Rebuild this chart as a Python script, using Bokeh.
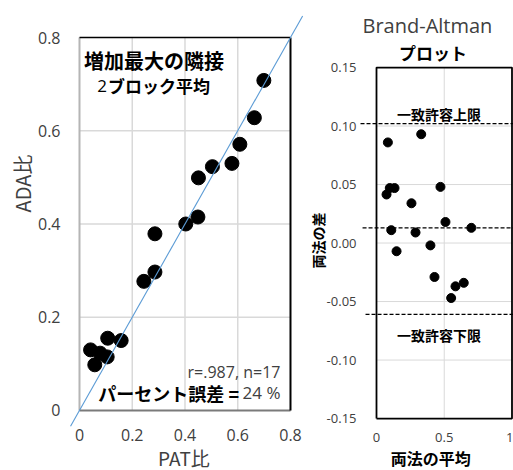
import math
from bokeh.plotting import figure
from bokeh.layouts import row
from bokeh.models import Label, FixedTicker, Range1d
from bokeh.embed import file_html
from bokeh.resources import INLINE

# ---------------- data ----------------
pat = [0.699, 0.663, 0.608, 0.578, 0.504, 0.451, 0.449, 0.403, 0.286, 0.286,
       0.244, 0.158, 0.107, 0.042, 0.058, 0.105, 0.078]
ada = [0.708, 0.628, 0.571, 0.530, 0.523, 0.499, 0.415, 0.400, 0.379, 0.297,
       0.277, 0.150, 0.155, 0.130, 0.098, 0.115, 0.123]

ba_mean = [0.084, 0.330, 0.074, 0.098, 0.133, 0.258, 0.472, 0.509, 0.700, 0.109,
           0.288, 0.398, 0.148, 0.428, 0.583, 0.644, 0.551]
ba_diff = [0.086, 0.093, 0.0415, 0.047, 0.047, 0.034, 0.048, 0.018, 0.013, 0.011,
           0.009, -0.002, -0.007, -0.029, -0.037, -0.034, -0.047]
ba_bias = 0.013
ba_upper = 0.102
ba_lower = -0.061

l_ticks = [0, 0.2, 0.4, 0.6, 0.8]
l_tick_labels = ["0", "0.2", "0.4", "0.6", "0.8"]
r_xticks = [0, 0.5, 1]
r_xtick_labels = ["0", "0.5", "1"]
r_yticks = [-0.15, -0.10, -0.05, 0.0, 0.05, 0.10, 0.15]
r_ytick_labels = ["-0.15", "-0.10", "-0.05", "0.00", "0.05", "0.10", "0.15"]

LIGHT = "Open Sans"
CJK = "Noto Sans CJK JP"
TXT = "#404040"
GRID = "#d9d9d9"
H = 470


def style_axes(p, ticks_x, labels_x, loc_x, ticks_y, labels_y, loc_y, fs, sx, sy):
    p.xgrid.visible = False
    p.ygrid.visible = False
    p.outline_line_color = None
    for ax, t, l, s, loc in ((p.xaxis, ticks_x, labels_x, sx, loc_x),
                             (p.yaxis, ticks_y, labels_y, sy, loc_y)):
        ax.fixed_location = loc
        ax.ticker = FixedTicker(ticks=t)
        ax.major_label_overrides = {k: v for k, v in zip(t, l)}
        ax.axis_line_color = None
        ax.major_tick_line_color = None
        ax.minor_tick_line_color = None
        ax.major_tick_out = 0
        ax.major_tick_in = 0
        ax.major_label_text_font = LIGHT
        ax.major_label_text_font_size = fs
        ax.major_label_text_color = TXT
        ax.major_label_standoff = s


def lab(p, x, y, text, font, size, bold=False, color="black", align="center", angle=0.0):
    p.add_layout(Label(x=x, y=y, text=text, text_font=font, text_font_size=size,
                       text_font_style="bold" if bold else "normal", text_color=color,
                       text_align=align, text_baseline="middle", angle=angle))


# ---------------- left: scatter ----------------
W1 = 306
p1 = figure(width=W1, height=H, output_backend="svg", toolbar_location=None,
            x_range=Range1d(-0.2995, 0.8607), y_range=Range1d(-0.1287, 0.8794),
            min_border_left=0, min_border_right=0, min_border_top=0, min_border_bottom=0,
            background_fill_color="white", border_fill_color="white")
style_axes(p1, l_ticks, l_tick_labels, 0, l_ticks, l_tick_labels, 0, "16px", 19, 19)

lo, hi = l_ticks[0], l_ticks[-1]
inner = l_ticks[1:-1]
p1.segment(x0=inner, y0=[lo] * len(inner), x1=inner, y1=[hi] * len(inner),
           line_color=GRID, line_width=1.5)
p1.segment(x0=[lo] * len(inner), y0=inner, x1=[hi] * len(inner), y1=inner,
           line_color=GRID, line_width=1.5)

p1.scatter(pat, ada, size=14, color="black")

p1.line([lo, lo], [lo, hi], line_color="#b5b5b5", line_width=2)
p1.line([lo, hi], [lo, lo], line_color="#7a7a7a", line_width=2)
p1.line([lo, hi], [hi, hi], line_color="black", line_width=1.5)
p1.line([hi, hi], [lo, hi], line_color="black", line_width=2)

diag = [-0.034, 0.846]
p1.line(diag, diag, line_color="#5b9bd5", line_width=1.1)

lab(p1, 0.2825, 0.7517, "増加最大の隣接", CJK, "20px", bold=True)
lab(p1, 0.108, 0.697, "ブロック平均", CJK, "17px", bold=True, align="left")
lab(p1, 0.104, 0.697, "2", LIGHT, "17px", align="right")
lab(p1, 0.762, 0.0836, "r=.987, n=17", LIGHT, "16px", color=TXT, align="right")
lab(p1, 0.762, 0.0386, "24 %", LIGHT, "17px", color=TXT, align="right")
lab(p1, 0.605, 0.0386, "パーセント誤差 =", CJK, "18px", bold=True, align="right")
lab(p1, -0.216, 0.487, "ADA比", CJK, "20px", color=TXT, angle=math.pi / 2)
lab(p1, 0.396, -0.1, "PAT比", CJK, "19px", color=TXT)

# ---------------- right: Bland-Altman ----------------
W2 = 207
xr2 = Range1d(-0.5166, 1.0111)
p2 = figure(width=W2, height=H, output_backend="svg", toolbar_location=None,
            x_range=xr2, y_range=Range1d(-0.1944, 0.2073),
            min_border_left=0, min_border_right=0, min_border_top=0, min_border_bottom=0,
            background_fill_color="white", border_fill_color="white")
style_axes(p2, r_xticks, r_xtick_labels, r_yticks[0], r_yticks, r_ytick_labels, r_xticks[0],
           "13px", 14, 20)

x0, x1 = r_xticks[0], r_xticks[-1]
y0, y1 = r_yticks[0], r_yticks[-1]
yin = r_yticks[1:-1]
p2.segment(x0=[x0] * len(yin), y0=yin, x1=[x1] * len(yin), y1=yin,
           line_color=GRID, line_width=1)
p2.segment(x0=r_xticks[1:-1], y0=[y0], x1=r_xticks[1:-1], y1=[y1],
           line_color=GRID, line_width=1)

p2.scatter(ba_mean, ba_diff, size=9, color="black")

p2.line([x0, x0, x1, x1, x0], [y0, y1, y1, y0, y0], line_color="black", line_width=1.8)

for start, yv in ((-0.118, ba_upper), (-0.103, ba_bias), (-0.081, ba_lower)):
    p2.line([start, xr2.end], [yv, yv], line_color="black", line_width=1.2, line_dash="4 2")

lab(p2, 0.376, 0.1863, "Brand-Altman", LIGHT, "20px", color=TXT)
lab(p2, 0.417, 0.1632, "プロット", CJK, "17px", bold=True)
lab(p2, 0.461, 0.1107, "一致許容上限", CJK, "14px", bold=True)
lab(p2, 0.461, -0.0782, "一致許容下限", CJK, "14px", bold=True)
lab(p2, -0.435, 0.0021, "両法の差", CJK, "14px", bold=True, angle=math.pi / 2)
lab(p2, 0.40, -0.1833, "両法の平均", CJK, "16px", bold=True)

layout = row(p1, p2)
open("out.html", "w").write(file_html(layout, INLINE))
